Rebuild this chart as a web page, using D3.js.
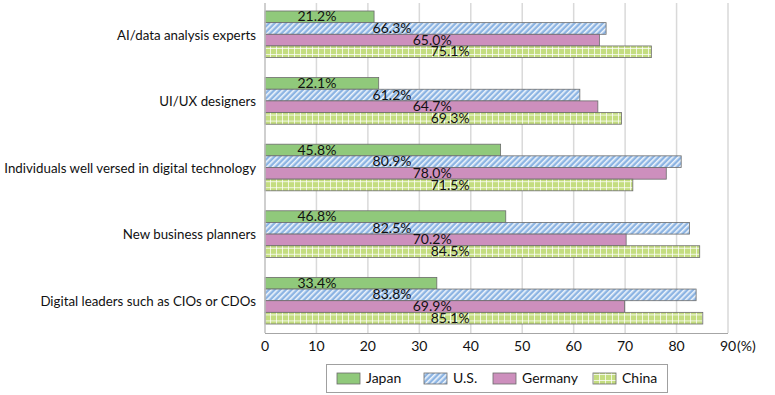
<!DOCTYPE html>
<html>
<head>
<meta charset="utf-8">
<script src="https://cdn.jsdelivr.net/npm/d3@7"></script>
<style>
  body { margin: 0; background: #fff; }
  svg text { font-family: Lato, Roboto, sans-serif; fill: #111; }
</style>
</head>
<body>
<svg id="chart" width="775" height="395"></svg>
<script>
const categories = [
    "AI/data analysis experts",
    "UI/UX designers",
    "Individuals well versed in digital technology",
    "New business planners",
    "Digital leaders such as CIOs or CDOs"
];
const series = ["Japan", "U.S.", "Germany", "China"];
const japan   = [21.2, 22.1, 45.8, 46.8, 33.4];
const us      = [66.3, 61.2, 80.9, 82.5, 83.8];
const germany = [65.0, 64.7, 78.0, 70.2, 69.9];
const china   = [75.1, 69.3, 71.5, 84.5, 85.1];
const xTicks  = [0, 10, 20, 30, 40, 50, 60, 70, 80, 90];

const values = [japan, us, germany, china];
// value labels sit at a fixed spot per series (in axis units)
const label_at = [10.1, 24.7, 32.5, 36];
const fills = ["#90c97b", "url(#hatch-us)", "#cd8fbd", "url(#grid-cn)"];

const svg = d3.select("#chart");
const x = d3.scaleLinear().domain([0, 90]).range([265, 728]);
const y = d3.scaleBand().domain(categories).range([1, 334]).paddingInner(0.3).paddingOuter(0.15);
const ys = d3.scaleBand().domain(series).range([0, y.bandwidth()]);

// patterns
const defs = svg.append("defs");
const hatch = defs.append("pattern").attr("id", "hatch-us")
    .attr("patternUnits", "userSpaceOnUse").attr("width", 4).attr("height", 4)
    .attr("patternTransform", "rotate(45)");
hatch.append("rect").attr("width", 4).attr("height", 4).attr("fill", "#8cb4e3");
hatch.append("rect").attr("width", 1.6).attr("height", 4).attr("fill", "#fff").attr("opacity", 0.85);

const grid = defs.append("pattern").attr("id", "grid-cn")
    .attr("patternUnits", "userSpaceOnUse").attr("width", 6).attr("height", 6)
    .attr("y", 1);
grid.append("rect").attr("width", 6).attr("height", 6).attr("fill", "#c4dd80");
grid.append("rect").attr("x", 0).attr("width", 1).attr("height", 6).attr("fill", "#fff").attr("opacity", 0.75);
grid.append("rect").attr("y", 0).attr("width", 6).attr("height", 1).attr("fill", "#fff").attr("opacity", 0.75);

// gridlines
svg.append("g").selectAll("line")
    .data(xTicks.slice(1))
    .join("line")
    .attr("x1", d => x(d)).attr("x2", d => x(d))
    .attr("y1", 3).attr("y2", 333)
    .attr("stroke", "#d9d9d9").attr("stroke-width", 1.5);

// bars
const groups = svg.append("g").selectAll("g")
    .data(categories)
    .join("g")
    .attr("transform", d => `translate(0,${y(d)})`);

groups.selectAll("rect")
    .data((c, ci) => series.map((s, si) => ({ s, si, v: values[si][ci] })))
    .join("rect")
    .attr("x", x(0))
    .attr("y", d => ys(d.s))
    .attr("width", d => x(d.v) - x(0))
    .attr("height", ys.bandwidth())
    .attr("fill", d => fills[d.si])
    .attr("stroke", "#6b6b6b").attr("stroke-width", 0.8);

groups.selectAll("text")
    .data((c, ci) => series.map((s, si) => ({ s, si, v: values[si][ci] })))
    .join("text")
    .attr("x", d => x(label_at[d.si]))
    .attr("y", d => ys(d.s) + ys.bandwidth() / 2 + 1)
    .attr("text-anchor", "middle")
    .attr("dominant-baseline", "middle")
    .attr("font-size", 14)
    .text(d => d.v.toFixed(1) + "%");

// axes lines
svg.append("line").attr("x1", x(0)).attr("x2", x(0)).attr("y1", 3).attr("y2", 333)
    .attr("stroke", "#bfbfbf").attr("stroke-width", 1.5);
svg.append("line").attr("x1", x(0)).attr("x2", x(90)).attr("y1", 333.5).attr("y2", 333.5)
    .attr("stroke", "#a6a6a6").attr("stroke-width", 1);

// category labels
svg.append("g").selectAll("text")
    .data(categories)
    .join("text")
    .attr("x", 256)
    .attr("y", d => y(d) + y.bandwidth() / 2 + 2)
    .attr("text-anchor", "end")
    .attr("dominant-baseline", "middle")
    .attr("font-size", 13.3)
    .text(d => d);

// x tick labels
svg.append("g").selectAll("text")
    .data(xTicks)
    .join("text")
    .attr("x", d => x(d))
    .attr("y", 347)
    .attr("text-anchor", "middle")
    .attr("dominant-baseline", "middle")
    .attr("font-size", 14)
    .text(d => d);
svg.append("text").attr("x", x(90) + 9).attr("y", 347)
    .attr("dominant-baseline", "middle").attr("font-size", 14).text("(%)");

// legend
const legend = svg.append("g");
legend.append("rect").attr("x", 326.5).attr("y", 364.5).attr("width", 341).attr("height", 28)
    .attr("fill", "#fff").attr("stroke", "#a0a0a0");
const legend_x = [337, 424, 493, 593];
const items = legend.selectAll("g")
    .data(series)
    .join("g")
    .attr("transform", (d, i) => `translate(${legend_x[i]},373)`);
items.append("rect").attr("width", 23).attr("height", 11)
    .attr("fill", (d, i) => fills[i]).attr("stroke", "#6b6b6b").attr("stroke-width", 0.8);
items.append("text").attr("x", 29).attr("y", 6)
    .attr("dominant-baseline", "middle").attr("font-size", 14)
    .text(d => d);
</script>
</body>
</html>
